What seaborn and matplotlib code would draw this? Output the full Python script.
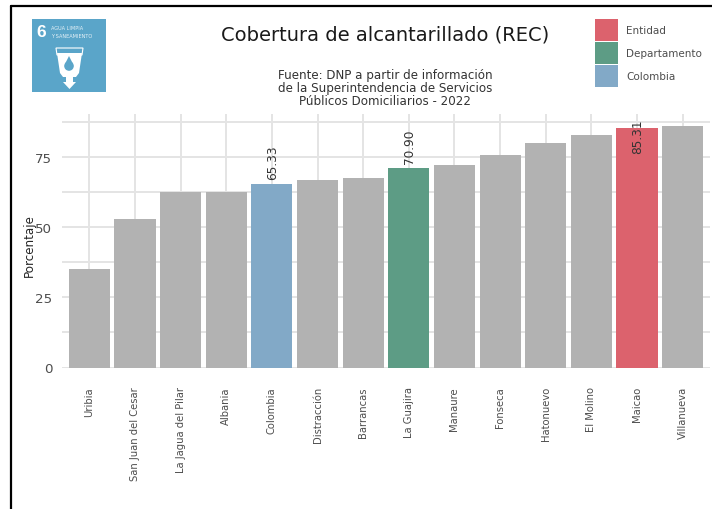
"""Cobertura de alcantarillado (REC), La Guajira 2022."""

import pandas as pd
import matplotlib
matplotlib.use('Agg')
import matplotlib.pyplot as plt
import seaborn as sns
from matplotlib.lines import Line2D
from matplotlib.patches import Patch, Polygon, Circle

W, H = 712, 510

# values
municipios = ['Uribia', 'San Juan del Cesar', 'La Jagua del Pilar', 'Albania',
              'Colombia', 'Distracción', 'Barrancas', 'La Guajira', 'Manaure',
              'Fonseca', 'Hatonuevo', 'El Molino', 'Maicao', 'Villanueva']
cobertura = [35.0, 53.0, 62.3, 62.4, 65.33, 66.9, 67.4, 70.90, 72.0,
             75.8, 80.0, 82.9, 85.31, 86.0]
tipo = ['Otro', 'Otro', 'Otro', 'Otro', 'Colombia', 'Otro', 'Otro', 'Departamento',
        'Otro', 'Otro', 'Otro', 'Otro', 'Entidad', 'Otro']
y_ticks = [0, 25, 50, 75]
y_minor = [12.5, 37.5, 62.5, 87.5]
legend_names = ['Entidad', 'Departamento', 'Colombia']

colores = {'Entidad': '#dc626d', 'Departamento': '#5d9c85',
           'Colombia': '#82a9c7', 'Otro': '#b2b2b2'}
GRID = '#e4e4e4'
TEXT = '#4d4d4d'


def px_axes(fig, x0, y0, x1, y1, **kwargs):
    """Axes from pixel box, y counted from the top."""
    return fig.add_axes([x0 / W, 1 - y1 / H, (x1 - x0) / W, (y1 - y0) / H], **kwargs)


def draw_logo(fig):
    """SDG 6 tile."""
    ax = px_axes(fig, 32, 20, 106, 93)
    ax.set_facecolor('#5aa5c9')
    ax.set_xlim(0, 74)
    ax.set_ylim(73, 0)
    ax.set_xticks([])
    ax.set_yticks([])
    for s in ax.spines.values():
        s.set_visible(False)
    ax.text(9.5, 12.5, '6', color='white', fontsize=12.5, fontweight='bold',
            ha='center', va='center', family='Liberation Sans')
    ax.text(19, 8, 'AGUA LIMPIA', color='white', fontsize=3.6, va='center', alpha=0.85)
    ax.text(19, 16.5, 'Y SANEAMIENTO', color='white', fontsize=3.6, va='center', alpha=0.85)
    ax.add_patch(Polygon([(24, 29), (51, 29), (50, 36), (25, 36)], closed=True,
                         fc='none', ec='white', lw=0.8))
    ax.add_patch(Polygon([(25, 34), (50, 34), (47, 54), (44, 58), (41, 58), (41, 63),
                          (44, 63), (37.5, 70), (31, 63), (34, 63), (34, 58), (31, 58), (28, 54)],
                         closed=True, fc='white', ec='none'))
    ax.add_patch(Circle((37, 47), 4.8, fc='#5aa5c9', ec='none'))
    ax.add_patch(Polygon([(37, 37), (33.2, 44.5), (40.8, 44.5)], closed=True,
                         fc='#5aa5c9', ec='none'))


def main():
    sns.set_theme(style='white')
    plt.rcParams['font.family'] = ['DejaVu Sans']

    df = pd.DataFrame({'municipio': municipios, 'cobertura': cobertura, 'tipo': tipo})

    fig = plt.figure(figsize=(W / 100, H / 100), dpi=100, facecolor='white')
    ax = px_axes(fig, 62, 114.5, 710, 368.5)

    sns.barplot(data=df, x='municipio', y='cobertura', hue='tipo', palette=colores,
                dodge=False, width=0.9, legend=False, saturation=1, linewidth=0,
                ax=ax, zorder=3)

    ax.set_xlim(-0.6, len(municipios) - 0.4)
    ax.set_ylim(0, 90.4)
    ax.set_yticks(y_ticks)
    ax.set_yticks(y_minor, minor=True)
    ax.set_axisbelow(True)
    ax.grid(True, axis='both', which='major', color=GRID, lw=1.4)
    ax.grid(True, axis='y', which='minor', color=GRID, lw=1.4)
    for s in ax.spines.values():
        s.set_visible(False)
    ax.axhline(0, color=GRID, lw=1.4, zorder=2)

    ax.tick_params(axis='x', length=8.5, width=1.4, color=GRID, pad=5,
                   labelsize=7.2, labelcolor=TEXT, labelrotation=90)
    ax.tick_params(axis='y', which='major', length=0, pad=7, labelsize=9.6, labelcolor=TEXT)
    ax.tick_params(axis='y', which='minor', length=0)
    for lab in ax.get_xticklabels():
        lab.set_va('top')
        lab.set_ha('center')
    ax.set_xlabel('')
    ax.set_ylabel('')
    fig.text(29 / W, 1 - 246 / H, 'Porcentaje', rotation=90, fontsize=8.6,
             color='#262626', ha='center', va='center')

    # value labels on the highlighted bars
    for i, row in df.iterrows():
        if row['tipo'] == 'Otro':
            continue
        offset = -2.7 if row['tipo'] == 'Entidad' else 8.0
        ax.text(i + 0.02, row['cobertura'] + offset, f"{row['cobertura']:.2f}", rotation=90,
                ha='center', va='center', fontsize=8.7, color='#333333', zorder=4)

    fig.text(385 / W, 1 - 35 / H, 'Cobertura de alcantarillado (REC)', fontsize=14,
             color='#1a1a1a', ha='center', va='center')
    fig.text(385 / W, 1 - 88.5 / H,
             'Fuente: DNP a partir de información\nde la Superintendencia de Servicios\n'
             'Públicos Domiciliarios - 2022',
             fontsize=8.6, color='#333333', ha='center', va='center', linespacing=1.03)

    handles = [Patch(fc=colores[n], ec='none') for n in legend_names]
    fig.legend(handles, legend_names, loc='upper left',
               bbox_to_anchor=(595 / W, 1 - 20 / H), borderaxespad=0, borderpad=0,
               frameon=False, fontsize=7.5, labelcolor=TEXT, handlelength=2.25,
               handleheight=2.85, handletextpad=0.75, labelspacing=0.12)

    draw_logo(fig)

    # dark frame of the original screenshot
    fig.add_artist(Line2D([11 / W, 11 / W], [0, 1 - 6.5 / H], color='black', lw=1.6))
    fig.add_artist(Line2D([11 / W, 1], [1 - 6.5 / H, 1 - 6.5 / H], color='black', lw=1.6))

    fig.savefig('out.png', dpi=100, facecolor='white')


if __name__ == '__main__':
    main()
